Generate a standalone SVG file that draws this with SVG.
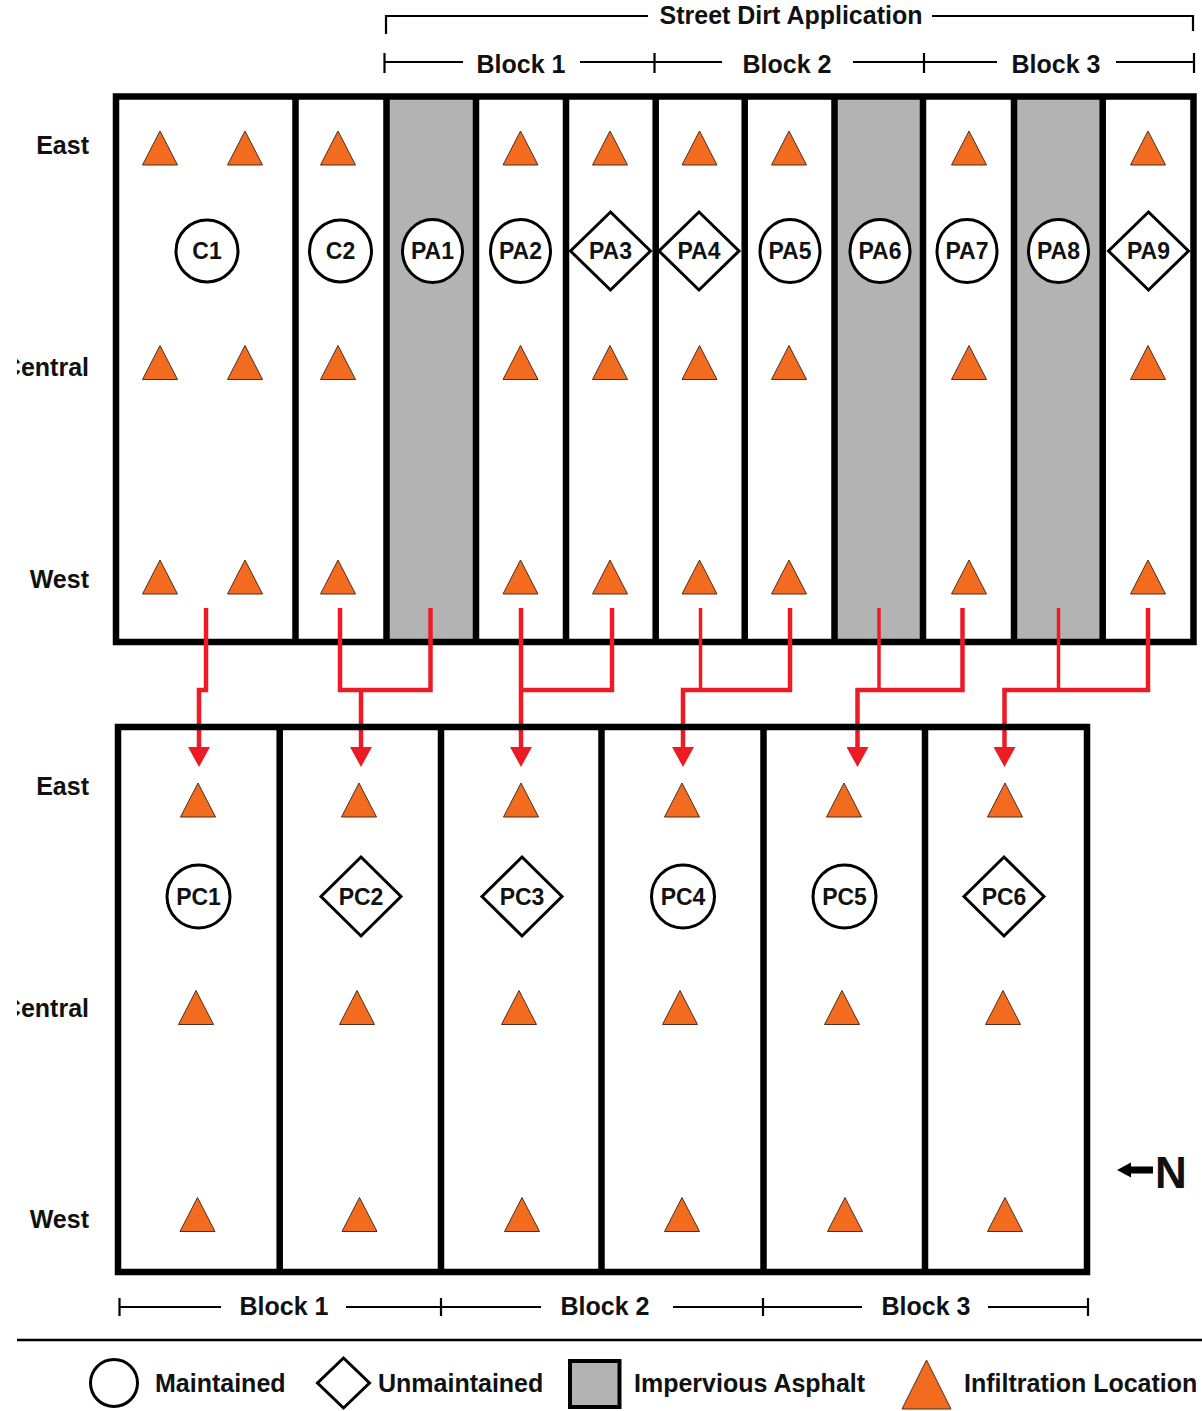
<svg xmlns="http://www.w3.org/2000/svg" xmlns:xlink="http://www.w3.org/1999/xlink" width="1202" height="1411" viewBox="0 0 1202 1411">
<style>
text{font-family:"Liberation Sans",Arial,sans-serif;font-weight:bold;fill:#111}
.lbl{font-size:25px}
.side{font-size:25px;text-anchor:end}
.nt{font-size:23px;text-anchor:middle}
.mid{text-anchor:middle}
.frame{fill:none;stroke:#000;stroke-width:6.5}
.div{stroke:#000;stroke-width:6.5}
.gray{fill:#B3B3B3}
.shape{fill:#fff;stroke:#000;stroke-width:3}
.tri{fill:#F26B1F;stroke:#4a3020;stroke-width:1}
.dim{fill:none;stroke:#000;stroke-width:2.2}
.wire{fill:none;stroke:#ED1C24;stroke-width:4.5;stroke-linejoin:miter}
.thin{stroke-width:3.5}
</style>
<defs>
<path id="tri" d="M0,-17 L17.5,17 L-17.5,17 Z"/>
<marker id="arr" markerUnits="userSpaceOnUse" markerWidth="22" markerHeight="22" refX="3" refY="11" orient="auto">
<path d="M0,0 L20,11 L0,22 Z" fill="#ED1C24"/>
</marker>
<clipPath id="clipL"><rect x="17" y="0" width="200" height="1411"/></clipPath>
</defs>

<g id="header">
<path class="dim" d="M386,34 V16 H648 M932,16 H1193 V31"/>
<text class="lbl mid" x="791" y="24" font-size="26">Street Dirt Application</text>
<path class="dim" d="M384.5,62 H463 M580,62 H722 M853,62 H997 M1116,62 H1194 M384.5,53 V73 M654.5,53 V73 M924,53 V73 M1194,53 V73"/>
<text class="lbl mid" x="521" y="73">Block 1</text>
<text class="lbl mid" x="787" y="73">Block 2</text>
<text class="lbl mid" x="1056" y="73">Block 3</text>
</g>

<g id="top-frame">
<rect class="gray" x="386.5" y="96.5" width="89.5" height="545.5"/>
<rect class="gray" x="834.5" y="96.5" width="88.5" height="545.5"/>
<rect class="gray" x="1014" y="96.5" width="88.7" height="545.5"/>
<rect class="frame" x="116" y="96.5" width="1077.5" height="545.5"/>
<path class="div" d="M295.5,96.5 V642 M386.5,96.5 V642 M476,96.5 V642 M566,96.5 V642 M655.7,96.5 V642 M744.7,96.5 V642 M834.5,96.5 V642 M923,96.5 V642 M1014,96.5 V642 M1102.7,96.5 V642"/>
</g>

<g id="top-labels">
<text class="side" x="89" y="154">East</text>
<text class="side" x="89" y="376" clip-path="url(#clipL)">Central</text>
<text class="side" x="89" y="588">West</text>
</g>

<g id="top-triangles">
<use xlink:href="#tri" class="tri" x="160" y="148"/><use xlink:href="#tri" class="tri" x="245" y="148"/><use xlink:href="#tri" class="tri" x="338" y="148"/><use xlink:href="#tri" class="tri" x="520.5" y="148"/><use xlink:href="#tri" class="tri" x="610" y="148"/><use xlink:href="#tri" class="tri" x="699.5" y="148"/><use xlink:href="#tri" class="tri" x="789" y="148"/><use xlink:href="#tri" class="tri" x="969" y="148"/><use xlink:href="#tri" class="tri" x="1148" y="148"/>
<use xlink:href="#tri" class="tri" x="160" y="362.5"/><use xlink:href="#tri" class="tri" x="245" y="362.5"/><use xlink:href="#tri" class="tri" x="338" y="362.5"/><use xlink:href="#tri" class="tri" x="520.5" y="362.5"/><use xlink:href="#tri" class="tri" x="610" y="362.5"/><use xlink:href="#tri" class="tri" x="699.5" y="362.5"/><use xlink:href="#tri" class="tri" x="789" y="362.5"/><use xlink:href="#tri" class="tri" x="969" y="362.5"/><use xlink:href="#tri" class="tri" x="1148" y="362.5"/>
<use xlink:href="#tri" class="tri" x="160" y="577"/><use xlink:href="#tri" class="tri" x="245" y="577"/><use xlink:href="#tri" class="tri" x="338" y="577"/><use xlink:href="#tri" class="tri" x="520.5" y="577"/><use xlink:href="#tri" class="tri" x="610" y="577"/><use xlink:href="#tri" class="tri" x="699.5" y="577"/><use xlink:href="#tri" class="tri" x="789" y="577"/><use xlink:href="#tri" class="tri" x="969" y="577"/><use xlink:href="#tri" class="tri" x="1148" y="577"/>
</g>

<g id="C1"><circle class="shape" cx="207" cy="251" r="31"/><text class="nt" x="207" y="259">C1</text></g>
<g id="C2"><circle class="shape" cx="340.5" cy="251" r="31"/><text class="nt" x="340.5" y="259">C2</text></g>
<g id="PA1"><ellipse class="shape" cx="432.5" cy="251" rx="30" ry="31.5"/><text class="nt" x="432.5" y="259">PA1</text></g>
<g id="PA2"><ellipse class="shape" cx="520.5" cy="251" rx="30" ry="31.5"/><text class="nt" x="520.5" y="259">PA2</text></g>
<g id="PA3"><path class="shape" d="M610.5,212 L650.5,251 L610.5,290 L570.5,251 Z"/><text class="nt" x="610.5" y="259">PA3</text></g>
<g id="PA4"><path class="shape" d="M699,212 L739,251 L699,290 L659,251 Z"/><text class="nt" x="699" y="259">PA4</text></g>
<g id="PA5"><ellipse class="shape" cx="790" cy="251" rx="30" ry="31.5"/><text class="nt" x="790" y="259">PA5</text></g>
<g id="PA6"><ellipse class="shape" cx="880" cy="251" rx="30" ry="31.5"/><text class="nt" x="880" y="259">PA6</text></g>
<g id="PA7"><ellipse class="shape" cx="967" cy="251" rx="30" ry="31.5"/><text class="nt" x="967" y="259">PA7</text></g>
<g id="PA8"><ellipse class="shape" cx="1058.5" cy="251" rx="30" ry="31.5"/><text class="nt" x="1058.5" y="259">PA8</text></g>
<g id="PA9"><path class="shape" d="M1148.5,212 L1188.5,251 L1148.5,290 L1108.5,251 Z"/><text class="nt" x="1148.5" y="259">PA9</text></g>

<g id="connectors">
<path class="wire" d="M206,608 V690 H199 V750" marker-end="url(#arr)"/>
<path class="wire" d="M340,608 V690 H430.5 V608"/>
<path class="wire" d="M361,690 V750" marker-end="url(#arr)"/>
<path class="wire" d="M612,608 V690 H521"/>
<path class="wire" d="M521,608 V750" marker-end="url(#arr)"/>
<path class="wire thin" d="M700.5,608 V690"/>
<path class="wire" d="M790,608 V690 H683 V750" marker-end="url(#arr)"/>
<path class="wire thin" d="M879,608 V690"/>
<path class="wire" d="M962.5,608 V690 H857.5 V750" marker-end="url(#arr)"/>
<path class="wire thin" d="M1058.5,608 V690"/>
<path class="wire" d="M1148,608 V690 H1004.5 V750" marker-end="url(#arr)"/>
</g>

<g id="bottom-frame">
<rect class="frame" x="118" y="727" width="969" height="545"/>
<path class="div" d="M279.7,727 V1272 M441,727 V1272 M601.5,727 V1272 M763.5,727 V1272 M925,727 V1272"/>
</g>

<g id="bottom-labels">
<text class="side" x="89" y="795">East</text>
<text class="side" x="89" y="1017" clip-path="url(#clipL)">Central</text>
<text class="side" x="89" y="1228">West</text>
</g>

<g id="bottom-triangles">
<use xlink:href="#tri" class="tri" x="198" y="800"/><use xlink:href="#tri" class="tri" x="359" y="800"/><use xlink:href="#tri" class="tri" x="521" y="800"/><use xlink:href="#tri" class="tri" x="682" y="800"/><use xlink:href="#tri" class="tri" x="844" y="800"/><use xlink:href="#tri" class="tri" x="1005" y="800"/>
<use xlink:href="#tri" class="tri" x="196" y="1007.5"/><use xlink:href="#tri" class="tri" x="357" y="1007.5"/><use xlink:href="#tri" class="tri" x="519" y="1007.5"/><use xlink:href="#tri" class="tri" x="680" y="1007.5"/><use xlink:href="#tri" class="tri" x="842" y="1007.5"/><use xlink:href="#tri" class="tri" x="1003" y="1007.5"/>
<use xlink:href="#tri" class="tri" x="197.5" y="1214.5"/><use xlink:href="#tri" class="tri" x="359.5" y="1214.5"/><use xlink:href="#tri" class="tri" x="522" y="1214.5"/><use xlink:href="#tri" class="tri" x="682" y="1214.5"/><use xlink:href="#tri" class="tri" x="845" y="1214.5"/><use xlink:href="#tri" class="tri" x="1005" y="1214.5"/>
</g>

<g id="PC1"><circle class="shape" cx="198.5" cy="896.5" r="31.5"/><text class="nt" x="198.5" y="904.5">PC1</text></g>
<g id="PC2"><path class="shape" d="M361,857 L401,896.5 L361,936 L321,896.5 Z"/><text class="nt" x="361" y="904.5">PC2</text></g>
<g id="PC3"><path class="shape" d="M522,857 L562,896.5 L522,936 L482,896.5 Z"/><text class="nt" x="522" y="904.5">PC3</text></g>
<g id="PC4"><circle class="shape" cx="683" cy="896.5" r="31.5"/><text class="nt" x="683" y="904.5">PC4</text></g>
<g id="PC5"><circle class="shape" cx="844.5" cy="896.5" r="31.5"/><text class="nt" x="844.5" y="904.5">PC5</text></g>
<g id="PC6"><path class="shape" d="M1004,857 L1044,896.5 L1004,936 L964,896.5 Z"/><text class="nt" x="1004" y="904.5">PC6</text></g>

<g id="footer-blocks">
<path class="dim" d="M119.5,1307 H221 M346,1307 H541 M673,1307 H862 M988,1307 H1088 M119.5,1298 V1316 M441,1298 V1316 M763,1298 V1316 M1088,1298 V1316"/>
<text class="lbl mid" x="284" y="1315">Block 1</text>
<text class="lbl mid" x="605" y="1315">Block 2</text>
<text class="lbl mid" x="926" y="1315">Block 3</text>
</g>

<g id="north">
<path d="M1117,1170 L1131,1162.5 L1131,1177.5 Z" fill="#000"/>
<rect x="1129" y="1166.5" width="24" height="7" fill="#000"/>
<text x="1155" y="1188" font-size="44">N</text>
</g>

<g id="legend">
<path d="M17,1340 H1202" stroke="#000" stroke-width="2.5"/>
<ellipse class="shape" cx="114" cy="1383" rx="23.5" ry="23.5"/>
<text class="lbl" x="155" y="1392">Maintained</text>
<path class="shape" d="M343.5,1358 L369.5,1383 L343.5,1408 L317.5,1383 Z"/>
<text class="lbl" x="378" y="1392">Unmaintained</text>
<rect x="570" y="1361" width="49.5" height="46" fill="#B3B3B3" stroke="#000" stroke-width="4"/>
<text class="lbl" x="634" y="1392">Impervious Asphalt</text>
<path class="tri" d="M926.5,1360 L951,1409 L902,1409 Z"/>
<text class="lbl" x="964" y="1392">Infiltration Location</text>
</g>
</svg>
